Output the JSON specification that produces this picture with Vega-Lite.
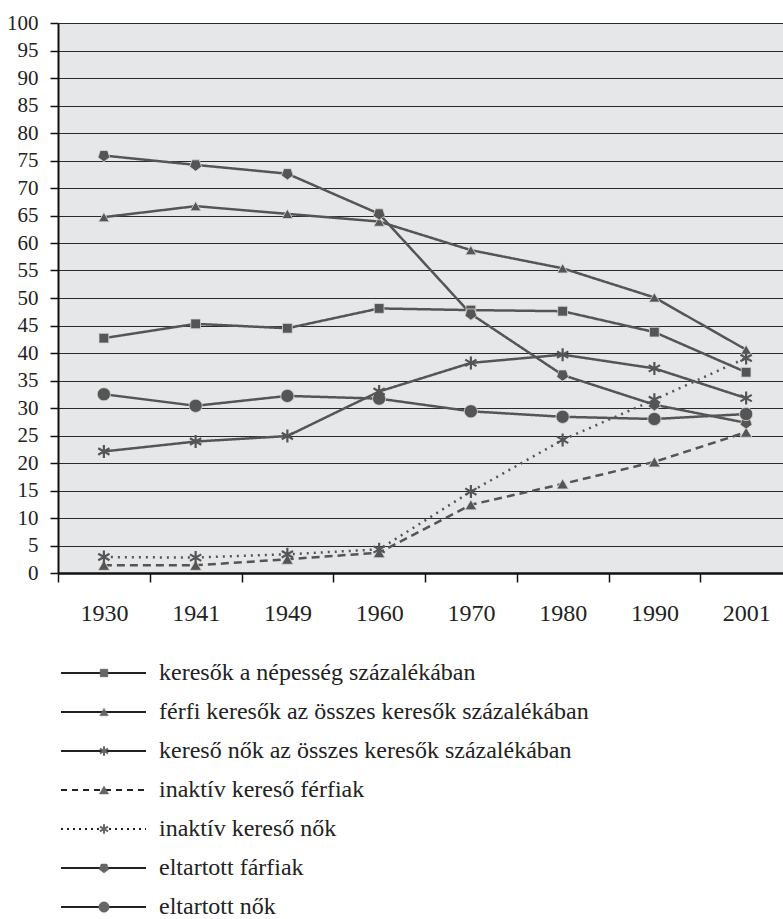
{
  "$schema": "https://vega.github.io/schema/vega-lite/v6.json",
  "padding": {"left": 6, "top": 12, "right": 0, "bottom": 0},
  "background": "white",
  "bounds": "flush",
  "spacing": 100,
  "config": {"view": {"stroke": null}, "font": "'Liberation Serif', 'Times New Roman', serif"},
  "resolve": {"scale": {"size": "independent", "strokeDash": "independent", "shape": "independent"}},
  "datasets": {
    "series": [
      {"year": "1930", "series": "keresők a népesség százalékában", "value": 42.7},
      {"year": "1941", "series": "keresők a népesség százalékában", "value": 45.3},
      {"year": "1949", "series": "keresők a népesség százalékában", "value": 44.5},
      {"year": "1960", "series": "keresők a népesség százalékában", "value": 48.1},
      {"year": "1970", "series": "keresők a népesség százalékában", "value": 47.8},
      {"year": "1980", "series": "keresők a népesség százalékában", "value": 47.6},
      {"year": "1990", "series": "keresők a népesség százalékában", "value": 43.8},
      {"year": "2001", "series": "keresők a népesség százalékában", "value": 36.5},
      {"year": "1930", "series": "férfi keresők az összes keresők százalékában", "value": 64.7},
      {"year": "1941", "series": "férfi keresők az összes keresők százalékában", "value": 66.7},
      {"year": "1949", "series": "férfi keresők az összes keresők százalékában", "value": 65.3},
      {"year": "1960", "series": "férfi keresők az összes keresők százalékában", "value": 63.9},
      {"year": "1970", "series": "férfi keresők az összes keresők százalékában", "value": 58.7},
      {"year": "1980", "series": "férfi keresők az összes keresők százalékában", "value": 55.4},
      {"year": "1990", "series": "férfi keresők az összes keresők százalékában", "value": 50.1},
      {"year": "2001", "series": "férfi keresők az összes keresők százalékában", "value": 40.6},
      {"year": "1930", "series": "kereső nők az összes keresők százalékában", "value": 22.1},
      {"year": "1941", "series": "kereső nők az összes keresők százalékában", "value": 23.9},
      {"year": "1949", "series": "kereső nők az összes keresők százalékában", "value": 24.9},
      {"year": "1960", "series": "kereső nők az összes keresők százalékában", "value": 33.0},
      {"year": "1970", "series": "kereső nők az összes keresők százalékában", "value": 38.2},
      {"year": "1980", "series": "kereső nők az összes keresők százalékában", "value": 39.7},
      {"year": "1990", "series": "kereső nők az összes keresők százalékában", "value": 37.2},
      {"year": "2001", "series": "kereső nők az összes keresők százalékában", "value": 31.8},
      {"year": "1930", "series": "inaktív kereső férfiak", "value": 1.4},
      {"year": "1941", "series": "inaktív kereső férfiak", "value": 1.4},
      {"year": "1949", "series": "inaktív kereső férfiak", "value": 2.5},
      {"year": "1960", "series": "inaktív kereső férfiak", "value": 3.7},
      {"year": "1970", "series": "inaktív kereső férfiak", "value": 12.4},
      {"year": "1980", "series": "inaktív kereső férfiak", "value": 16.2},
      {"year": "1990", "series": "inaktív kereső férfiak", "value": 20.2},
      {"year": "2001", "series": "inaktív kereső férfiak", "value": 25.6},
      {"year": "1930", "series": "inaktív kereső nők", "value": 2.9},
      {"year": "1941", "series": "inaktív kereső nők", "value": 2.8},
      {"year": "1949", "series": "inaktív kereső nők", "value": 3.4},
      {"year": "1960", "series": "inaktív kereső nők", "value": 4.3},
      {"year": "1970", "series": "inaktív kereső nők", "value": 14.8},
      {"year": "1980", "series": "inaktív kereső nők", "value": 24.2},
      {"year": "1990", "series": "inaktív kereső nők", "value": 31.5},
      {"year": "2001", "series": "inaktív kereső nők", "value": 39.1},
      {"year": "1930", "series": "eltartott fárfiak", "value": 75.9},
      {"year": "1941", "series": "eltartott fárfiak", "value": 74.2},
      {"year": "1949", "series": "eltartott fárfiak", "value": 72.6},
      {"year": "1960", "series": "eltartott fárfiak", "value": 65.3},
      {"year": "1970", "series": "eltartott fárfiak", "value": 47.1},
      {"year": "1980", "series": "eltartott fárfiak", "value": 36.0},
      {"year": "1990", "series": "eltartott fárfiak", "value": 30.6},
      {"year": "2001", "series": "eltartott fárfiak", "value": 27.3},
      {"year": "1930", "series": "eltartott nők", "value": 32.5},
      {"year": "1941", "series": "eltartott nők", "value": 30.4},
      {"year": "1949", "series": "eltartott nők", "value": 32.2},
      {"year": "1960", "series": "eltartott nők", "value": 31.7},
      {"year": "1970", "series": "eltartott nők", "value": 29.4},
      {"year": "1980", "series": "eltartott nők", "value": 28.4},
      {"year": "1990", "series": "eltartott nők", "value": 28.0},
      {"year": "2001", "series": "eltartott nők", "value": 28.9}
    ],
    "legend": [
      {"series": "keresők a népesség százalékában"},
      {"series": "férfi keresők az összes keresők százalékában"},
      {"series": "kereső nők az összes keresők százalékában"},
      {"series": "inaktív kereső férfiak"},
      {"series": "inaktív kereső nők"},
      {"series": "eltartott fárfiak"},
      {"series": "eltartott nők"}
    ]
  },
  "vconcat": [
    {
      "width": 726,
      "height": 550,
      "view": {"fill": "#e6e7e9", "stroke": null},
      "data": {"name": "series"},
      "encoding": {
        "x": {
          "field": "year", "type": "ordinal",
          "scale": {"type": "band", "paddingInner": 0, "paddingOuter": 0, "range": [0, 734]},
          "axis": {"title": null, "labelAngle": 0, "labelFont": "'Liberation Serif', 'Times New Roman', serif", "labelFontSize": 24, "labelColor": "#222", "labelPadding": 19, "tickBand": "extent", "tickSize": 9, "tickWidth": 1.5, "tickColor": "#111", "domainColor": "#111", "domainWidth": 2.5, "grid": false}
        },
        "y": {
          "field": "value", "type": "quantitative",
          "scale": {"domain": [0, 100], "nice": false},
          "axis": {"title": null, "values": [0,5,10,15,20,25,30,35,40,45,50,55,60,65,70,75,80,85,90,95,100], "labelFont": "'Liberation Serif', 'Times New Roman', serif", "labelFontSize": 21, "labelColor": "#222", "labelPadding": 12, "labelFlush": false, "tickSize": 8, "tickWidth": 1.5, "tickColor": "#111", "domainColor": "#111", "domainWidth": 2, "grid": true, "gridColor": "#2a2a2a", "gridWidth": 1}
        }
      },
      "layer": [
        {
          "mark": {"type": "line", "stroke": "#555555", "strokeWidth": 2.5},
          "encoding": {
            "detail": {"field": "series"},
            "strokeDash": {
              "field": "series", "type": "nominal", "legend": null,
              "scale": {
                "domain": ["keresők a népesség százalékában", "férfi keresők az összes keresők százalékában", "kereső nők az összes keresők százalékában", "inaktív kereső férfiak", "inaktív kereső nők", "eltartott fárfiak", "eltartott nők"],
                "range": [[1, 0], [1, 0], [1, 0], [8, 5], [2, 5], [1, 0], [1, 0]]
              }
            }
          }
        },
        {
          "transform": [{"filter": {"field": "series", "oneOf": ["keresők a népesség százalékában", "férfi keresők az összes keresők százalékában", "inaktív kereső férfiak", "eltartott fárfiak", "eltartott nők"]}}],
          "mark": {"type": "point", "filled": true, "fill": "#555555", "stroke": "#d8d8d8", "strokeWidth": 0.8, "opacity": 1},
          "encoding": {
            "shape": {
              "field": "series", "type": "nominal", "legend": null,
              "scale": {
                "domain": ["keresők a népesség százalékában", "férfi keresők az összes keresők százalékában", "inaktív kereső férfiak", "eltartott fárfiak", "eltartott nők"],
                "range": ["square", "triangle-up", "triangle-up", "M0,1L0.951,0.309L0.588,-0.809L-0.588,-0.809L-0.951,0.309Z", "circle"]
              }
            },
            "size": {
              "field": "series", "type": "nominal", "legend": null,
              "scale": {
                "domain": ["keresők a népesség százalékában", "férfi keresők az összes keresők százalékában", "inaktív kereső férfiak", "eltartott fárfiak", "eltartott nők"],
                "range": [95, 175, 175, 160, 144]
              }
            }
          }
        },
        {
          "transform": [{"filter": {"field": "series", "oneOf": ["kereső nők az összes keresők százalékában", "inaktív kereső nők"]}}],
          "mark": {"type": "point", "filled": false, "stroke": "#555555", "strokeWidth": 2.2, "opacity": 1, "size": 170, "shape": "M0,-1L0,1M-0.866,-0.5L0.866,0.5M-0.866,0.5L0.866,-0.5"},
          "encoding": {}
        }
      ]
    },
    {
      "width": 726,
      "height": 234,
      "data": {"name": "legend"},
      "encoding": {
        "y": {"field": "series", "type": "nominal", "sort": null, "scale": {"type": "point", "padding": 0}, "axis": null}
      },
      "layer": [
        {
          "mark": {"type": "rule", "stroke": "#222222", "strokeWidth": 2},
          "encoding": {
            "x": {"datum": 3, "type": "quantitative", "scale": {"domain": [0, 726], "nice": false, "zero": false}, "axis": null},
            "x2": {"datum": 88},
            "strokeDash": {
              "field": "series", "type": "nominal", "legend": null,
              "scale": {
                "domain": ["keresők a népesség százalékában", "férfi keresők az összes keresők százalékában", "kereső nők az összes keresők százalékában", "inaktív kereső férfiak", "inaktív kereső nők", "eltartott fárfiak", "eltartott nők"],
                "range": [[1, 0], [1, 0], [1, 0], [6, 5], [2, 4], [1, 0], [1, 0]]
              }
            }
          }
        },
        {
          "transform": [{"filter": {"field": "series", "oneOf": ["keresők a népesség százalékában", "férfi keresők az összes keresők százalékában", "inaktív kereső férfiak", "eltartott fárfiak", "eltartott nők"]}}],
          "mark": {"type": "point", "filled": true, "fill": "#666666", "stroke": "#666666", "strokeWidth": 0.5, "opacity": 1},
          "encoding": {
            "x": {"datum": 46, "type": "quantitative"},
            "shape": {
              "field": "series", "type": "nominal", "legend": null,
              "scale": {
                "domain": ["keresők a népesség százalékában", "férfi keresők az összes keresők százalékában", "inaktív kereső férfiak", "eltartott fárfiak", "eltartott nők"],
                "range": ["square", "triangle-up", "triangle-up", "M0,1L0.951,0.309L0.588,-0.809L-0.588,-0.809L-0.951,0.309Z", "circle"]
              }
            },
            "size": {
              "field": "series", "type": "nominal", "legend": null,
              "scale": {
                "domain": ["keresők a népesség százalékában", "férfi keresők az összes keresők százalékában", "inaktív kereső férfiak", "eltartott fárfiak", "eltartott nők"],
                "range": [60, 110, 110, 100, 80]
              }
            }
          }
        },
        {
          "transform": [{"filter": {"field": "series", "oneOf": ["kereső nők az összes keresők százalékában", "inaktív kereső nők"]}}],
          "mark": {"type": "point", "filled": false, "stroke": "#666666", "strokeWidth": 2, "opacity": 1, "size": 90, "shape": "M0,-1L0,1M-0.866,-0.5L0.866,0.5M-0.866,0.5L0.866,-0.5"},
          "encoding": {"x": {"datum": 46, "type": "quantitative"}}
        },
        {
          "mark": {"type": "text", "align": "left", "baseline": "middle", "font": "'Liberation Serif', 'Times New Roman', serif", "fontSize": 24, "color": "#222222"},
          "encoding": {
            "x": {"datum": 101, "type": "quantitative"},
            "text": {"field": "series"}
          }
        }
      ]
    }
  ]
}
